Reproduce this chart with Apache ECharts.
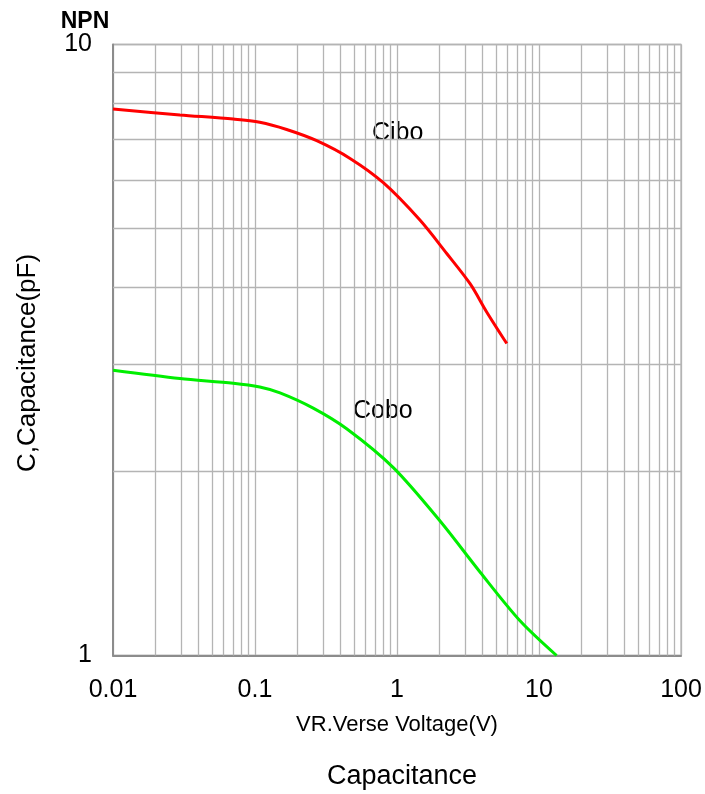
<!DOCTYPE html>
<html><head><meta charset="utf-8">
<script src="https://cdn.jsdelivr.net/npm/echarts@6/dist/echarts.min.js"></script>
<style>html,body{margin:0;padding:0;background:#fff}#c{width:705px;height:794px}</style>
</head><body><div id="c"></div>
<script>
const ciboV = [0.01, 0.0296, 0.0703, 0.108, 0.167, 0.272, 0.467, 0.801, 1.45, 2.24, 3.27, 4.28, 5.93];
const ciboC = [7.84, 7.67, 7.55, 7.46, 7.26, 6.96, 6.51, 5.94, 5.16, 4.55, 4.06, 3.65, 3.24];
const coboV = [0.01, 0.0296, 0.0703, 0.108, 0.15, 0.257, 0.442, 0.942, 2.01, 3.84, 7.35, 13.3];
const coboC = [2.93, 2.84, 2.79, 2.75, 2.69, 2.54, 2.35, 2.03, 1.66, 1.37, 1.14, 1.0];
const xTicks = [0.01, 0.1, 1, 10, 100];
const yTicks = [1, 10];
const xMinor = [];
for (let d = 0.01; d < 100; d *= 10) for (let k = 2; k <= 9; k++) xMinor.push(+(d * k).toPrecision(3));
const yMinor = [2, 3, 4, 5, 6, 7, 8, 9];

const gridColor = '#b4b4b4';
const font = '"Liberation Sans", Arial, sans-serif';
const chart = echarts.init(document.getElementById('c'));
const mlData = xMinor.map(v => ({ xAxis: v })).concat(yMinor.map(v => ({ yAxis: v })));
chart.setOption({
  animation: false,
  title: [
    { text: 'NPN', left: 80, top: 5, textAlign: 'center', textStyle: { fontFamily: font, fontSize: 23, fontWeight: 'bold', color: '#000' } },
    { text: 'Capacitance', left: 397, top: 758, textAlign: 'center', textStyle: { fontFamily: font, fontSize: 27, fontWeight: 'normal', color: '#000' } }
  ],
  grid: { left: 113, right: 24, top: 44.5, bottom: 138.5, show: true, borderColor: gridColor, borderWidth: 1.3 },
  xAxis: {
    type: 'log', logBase: 10, min: 0.01, max: 100,
    name: 'VR.Verse Voltage(V)', nameLocation: 'middle', nameGap: 58,
    nameTextStyle: { fontFamily: font, fontSize: 22, color: '#000' },
    axisLine: { show: true, lineStyle: { color: '#8c8c8c', width: 2 } },
    axisTick: { show: false },
    axisLabel: { fontFamily: font, fontSize: 25, color: '#000', margin: 22, formatter: v => String(+v.toPrecision(3)) },
    splitLine: { show: true, lineStyle: { color: gridColor, width: 1.3 } }
  },
  yAxis: {
    type: 'log', logBase: 10, min: 1, max: 10,
    name: 'C,Capacitance(pF)', nameLocation: 'middle', nameGap: 72,
    nameTextStyle: { fontFamily: font, fontSize: 26, color: '#000', padding: [0, 26, 0, 0] },
    axisLine: { show: true, lineStyle: { color: '#8c8c8c', width: 2 } },
    axisTick: { show: false },
    axisLabel: { fontFamily: font, fontSize: 25, color: '#000', margin: 21, formatter: v => String(+v.toPrecision(3)) },
    splitLine: { show: true, lineStyle: { color: gridColor, width: 1.3 } }
  },
  graphic: [
    { type: 'text', left: 372, top: 121, style: { text: 'Cibo', font: '25px ' + font, fill: '#000' } },
    { type: 'text', left: 353, top: 399, style: { text: 'Cobo', font: '25px ' + font, fill: '#000' } }
  ],
  series: [
    {
      type: 'line', z: 1, silent: true, symbol: 'none',
      data: [[0.01, 1], [100, 10]], lineStyle: { opacity: 0 },
      markLine: { silent: true, symbol: 'none', label: { show: false }, animation: false,
        lineStyle: { color: gridColor, width: 1.3, type: 'solid' }, data: mlData }
    },
    { type: 'line', z: 5, symbol: 'none', smooth: 0.3, data: ciboV.map((v, i) => [v, ciboC[i]]),
      lineStyle: { color: '#ff0000', width: 3 } },
    { type: 'line', z: 5, symbol: 'none', smooth: 0.3, data: coboV.map((v, i) => [v, coboC[i]]),
      lineStyle: { color: '#00ee00', width: 3 } }
  ]
});
</script></body></html>
